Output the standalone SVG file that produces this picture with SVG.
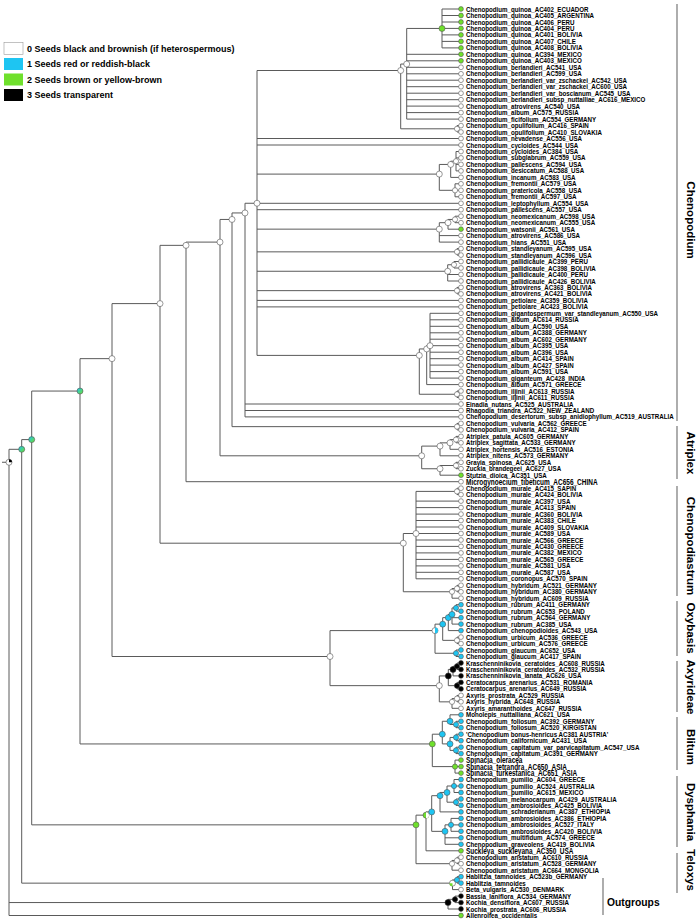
<svg xmlns="http://www.w3.org/2000/svg" width="697" height="922" viewBox="0 0 697 922">
<defs>
<linearGradient id="gmx" x1="0" y1="0" x2="1" y2="1"><stop offset="0" stop-color="#1ec5f2"/><stop offset="1" stop-color="#6fe02c"/></linearGradient>
</defs>
<style>
text{font-family:"Liberation Sans",Arial,sans-serif;font-weight:bold;fill:#000}
.lb{font-size:7px}
.bg{font-size:9px}
.lg{font-size:9px}
.gl{font-size:11.5px}
circle{stroke:#555;stroke-width:.6}
.w{fill:#fff}
.c{fill:#1ec5f2}
.g{fill:#6fe02c}
.k{fill:#000;stroke:#333}
.mx{fill:url(#gmx)}
.pk{fill:#000}
.pc{fill:#1ec5f2}
.pg{fill:#6fe02c}
#edges path{fill:none;stroke:#5a5a5a;stroke-width:1}
.br{stroke:#777;stroke-width:1.2}
</style>
<rect width="697" height="922" fill="#fff"/>
<g id="legend">
<rect x="4" y="42.5" width="19" height="12" fill="#fff" stroke="#999" stroke-width=".6"/>
<rect x="4" y="58" width="19" height="12" fill="#1ec5f2"/>
<rect x="4" y="73.5" width="19" height="12" fill="#6fe02c"/>
<rect x="4" y="89" width="19" height="12" fill="#000"/>
<text class="lg" x="27" y="51.5">0 Seeds black and brownish (if heterospermous)</text>
<text class="lg" x="27" y="67">1 Seeds red or reddish-black</text>
<text class="lg" x="27" y="82.5">2 Seeds brown or yellow-brown</text>
<text class="lg" x="27" y="98">3 Seeds transparent</text>
</g>
<g id="edges">
<path d="M2 462.25H9M9 449.3V915.5M9 449.3H21.7M9 902.55H448M9 915.5H459"/>
<path d="M21.7 439.6V883.15M21.7 439.6H31.7M21.7 883.15H452.5"/>
<path d="M31.7 391.05V824.85M31.7 391.05H80M31.7 824.85H416"/>
<path d="M80 358.65V743.95M80 358.65H112M80 743.95H432.3"/>
<path d="M112 303.6V656.5M112 303.6H160M112 656.5H330"/>
<path d="M160 245.35V543.2M160 245.35H186M160 543.2H403.3"/>
<path d="M186 242.1V481.7M186 242.1H220M186 481.7H459"/>
<path d="M220 219.45V455.8M220 219.45H232M220 455.8H421.7"/>
<path d="M232 212.95V426.65M232 212.95H245M232 426.65H457"/>
<path d="M245 203.25V416.9M245 203.25H257M245 404H459M245 410.5H459M245 416.9H459"/>
<path d="M257 70.5V355.4M257 70.5H400.7M257 138.5H459M257 145H459M257 174.1H439.3M257 203.3H459M257 209.7H459M257 229.15H439.3M257 251.85H457M257 271.25H447.7M257 290.65H457M257 300.4H459M257 306.9H459M257 355.4H419.3"/>
<path d="M400.7 64.05V128.8M400.7 64.05H406.7M400.7 128.8H457"/>
<path d="M406.7 28.45V119.1M406.7 28.45H442M406.7 54.3H459M406.7 60.8H459M406.7 67.3H459M406.7 73.8H459M406.7 80.2H459M406.7 86.7H459M406.7 93.2H459M406.7 99.7H459M406.7 106.1H459M406.7 112.6H459M406.7 119.1H459"/>
<path d="M442 9V47.9M442 9H459M442 15.5H459M442 22H459M442 28.4H459M442 34.9H459M442 41.4H459M442 47.9H459"/>
<path d="M457 125.6V132M457 125.6H459M457 132H459"/>
<path d="M439.3 164.45V190.3M439.3 164.45H450.7M439.3 190.3H455"/>
<path d="M450.7 161.2V177.4M450.7 161.2H456M450.7 177.4H459"/>
<path d="M456 151.5V170.9M456 151.5H459M456 157.9H459M456 164.4H459M456 170.9H459"/>
<path d="M455 183.8V196.8M455 183.8H459M455 190.3H459M455 196.8H459"/>
<path d="M439.3 222.7V242.1M439.3 222.7H448M439.3 235.6H459M439.3 242.1H459"/>
<path d="M448 219.45V229.2M448 219.45H455M448 229.2H459"/>
<path d="M455 216.2V222.7M455 216.2H459M455 222.7H459"/>
<path d="M457 248.6V255.1M457 248.6H459M457 255.1H459"/>
<path d="M447.7 264.75V281M447.7 264.75H454M447.7 274.5H459M447.7 281H459"/>
<path d="M454 261.5V268M454 261.5H459M454 268H459"/>
<path d="M457 287.4V293.9M457 287.4H459M457 293.9H459"/>
<path d="M419.3 348.95V394.25M419.3 348.95H426.7M419.3 394.25H457"/>
<path d="M426.7 345.7V384.6M426.7 345.7H430M426.7 384.6H459"/>
<path d="M430 313.3V378.1M430 313.3H459M430 319.8H459M430 326.3H459M430 332.8H459M430 339.2H459M430 345.7H459M430 352.2H459M430 358.7H459M430 365.1H459M430 371.6H459M430 378.1H459"/>
<path d="M457 391V397.5M457 391H459M457 397.5H459"/>
<path d="M457 423.4V429.9M457 423.4H459M457 429.9H459"/>
<path d="M421.7 446.1V468.75M421.7 446.1H440M421.7 468.75H440"/>
<path d="M440 442.85V455.8M440 442.85H450M440 455.8H459"/>
<path d="M450 439.6V449.3M450 439.6H456M450 449.3H459"/>
<path d="M456 436.4V442.8M456 436.4H459M456 442.8H459"/>
<path d="M440 465.5V475.2M440 465.5H456M440 475.2H459"/>
<path d="M456 462.3V468.7M456 462.3H459M456 468.7H459"/>
<path d="M403.3 533.5V591.75M403.3 533.5H416M403.3 591.75H452"/>
<path d="M416 491.4V578.8M416 491.4H457M416 501.1H459M416 507.6H459M416 514.1H459M416 520.5H459M416 527H459M416 533.5H459M416 540H459M416 546.4H459M416 552.9H459M416 559.4H459M416 565.9H459M416 572.3H459M416 578.8H459"/>
<path d="M457 488.2V494.6M457 488.2H459M457 494.6H459"/>
<path d="M452 588.55V598.2M452 588.55H457M452 598.2H459"/>
<path d="M457 585.3V591.8M457 585.3H459M457 591.8H459"/>
<path d="M330 630.6V685.65M330 630.6H435M330 685.65H439.3"/>
<path d="M435 624.15V653.25M435 624.15H442.7M435 653.25H456"/>
<path d="M442.7 617.65V640.35M442.7 617.65H448.3M442.7 640.35H457"/>
<path d="M448.3 614.4V630.6M448.3 614.4H452M448.3 630.6H459"/>
<path d="M452 607.95V624.1M452 607.95H456M452 617.7H459M452 624.1H459"/>
<path d="M456 604.7V611.2M456 604.7H459M456 611.2H459"/>
<path d="M457 637.1V643.6M457 637.1H459M457 643.6H459"/>
<path d="M456 650V656.5M456 650H459M456 656.5H459"/>
<path d="M439.3 675.95V701.85M439.3 675.95H448.3M439.3 701.85H452"/>
<path d="M448.3 669.45V685.65M448.3 669.45H453M448.3 685.65H457"/>
<path d="M453 666.25V675.9M453 666.25H457M453 675.9H459"/>
<path d="M457 663V669.5M457 663H459M457 669.5H459"/>
<path d="M457 682.4V688.9M457 682.4H459M457 688.9H459"/>
<path d="M452 698.6V708.3M452 698.6H457M452 708.3H459"/>
<path d="M457 695.4V701.8M457 695.4H459M457 701.8H459"/>
<path d="M432.3 734.2V766.6M432.3 734.2H442.3M432.3 766.6H455"/>
<path d="M442.3 721.25V743.9M442.3 721.25H450M442.3 743.9H450"/>
<path d="M450 714.8V724.5M450 714.8H459M450 724.5H456"/>
<path d="M456 721.3V727.7M456 721.3H459M456 727.7H459"/>
<path d="M450 737.45V750.4M450 737.45H456M450 750.4H456"/>
<path d="M456 734.2V740.7M456 734.2H459M456 740.7H459"/>
<path d="M456 747.2V753.6M456 747.2H459M456 753.6H459"/>
<path d="M455 760.1V773.1M455 760.1H459M455 766.6H459M455 773.1H459"/>
<path d="M416 815.15V863.7M416 815.15H426M416 863.7H452"/>
<path d="M426 811.9V850.8M426 811.9H431.7M426 850.8H459"/>
<path d="M431.7 795.7V831.35M431.7 795.7H440M431.7 831.35H445"/>
<path d="M440 792.45V811.9M440 792.45H447M440 811.9H459"/>
<path d="M447 786V802.2M447 786H454M447 802.2H456"/>
<path d="M454 779.5V792.5M454 779.5H459M454 786H459M454 792.5H459"/>
<path d="M456 799V805.4M456 799H459M456 805.4H459"/>
<path d="M445 824.85V844.3M445 824.85H451M445 837.8H459M445 844.3H459"/>
<path d="M451 818.4V831.3M451 818.4H459M451 824.9H459M451 831.3H459"/>
<path d="M452 860.45V870.2M452 860.45H457M452 870.2H459"/>
<path d="M457 857.2V863.7M457 857.2H459M457 863.7H459"/>
<path d="M452.5 879.9V889.6M452.5 879.9H457M452.5 889.6H459"/>
<path d="M457 876.7V883.1M457 876.7H459M457 883.1H459"/>
<path d="M448 899.35V909M448 899.35H455M448 909H459"/>
<path d="M455 896.1V902.6M455 896.1H459M455 902.6H459"/>
</g>
<g id="internal">
<g id="nRoot"><circle class="w" cx="9" cy="462.25" r="3"/><path class="pk" d="M9 462.25V459.25A3 3 0 0 1 12 462.25Z"/></g>
<g id="nB"><circle class="mx" cx="21.7" cy="449.3" r="3"/></g>
<g id="nC"><circle class="mx" cx="31.7" cy="439.6" r="3"/></g>
<g id="nD"><circle class="mx" cx="80" cy="391.05" r="3"/></g>
<g id="nE"><circle class="w" cx="112" cy="358.65" r="3"/></g>
<g id="nX"><circle class="w" cx="160" cy="303.6" r="3"/></g>
<g id="nY"><circle class="w" cx="186" cy="245.35" r="3"/></g>
<g id="nCA"><circle class="w" cx="220" cy="242.1" r="3"/></g>
<g id="nS3"><circle class="w" cx="232" cy="219.45" r="3"/></g>
<g id="nS2"><circle class="w" cx="245" cy="212.95" r="3"/></g>
<g id="nS1"><circle class="w" cx="257" cy="203.25" r="3"/></g>
<g id="nN0"><circle class="w" cx="400.7" cy="70.5" r="3"/></g>
<g id="nN1"><circle class="w" cx="406.7" cy="64.05" r="3"/></g>
<g id="nQ1"><circle class="g" cx="442" cy="28.45" r="3"/></g>
<g id="nO"><circle class="w" cx="457" cy="128.8" r="2.6"/></g>
<g id="nC1"><circle class="w" cx="439.3" cy="174.1" r="3"/></g>
<g id="nC2"><circle class="w" cx="450.7" cy="164.45" r="3"/></g>
<g id="nC3"><circle class="w" cx="456" cy="161.2" r="2.6"/></g>
<g id="nF"><circle class="w" cx="455" cy="190.3" r="2.6"/></g>
<g id="nNM"><circle class="w" cx="439.3" cy="229.15" r="3"/></g>
<g id="nNMb"><circle class="w" cx="448" cy="222.7" r="3"/></g>
<g id="nNMc"><circle class="w" cx="455" cy="219.45" r="2.6"/></g>
<g id="nSD"><circle class="w" cx="457" cy="251.85" r="2.6"/></g>
<g id="nPA"><circle class="w" cx="447.7" cy="271.25" r="3"/></g>
<g id="nPAa"><circle class="w" cx="454" cy="264.75" r="2.6"/></g>
<g id="nAT"><circle class="w" cx="457" cy="290.65" r="2.6"/></g>
<g id="nA3"><circle class="w" cx="419.3" cy="355.4" r="3"/></g>
<g id="nA2"><circle class="w" cx="426.7" cy="348.95" r="3"/></g>
<g id="nA1"><circle class="w" cx="430" cy="345.7" r="3"/></g>
<g id="nI"><circle class="w" cx="457" cy="394.25" r="2.6"/></g>
<g id="nVU"><circle class="w" cx="457" cy="426.65" r="2.6"/></g>
<g id="nATR"><circle class="w" cx="421.7" cy="455.8" r="3"/></g>
<g id="nATa"><circle class="w" cx="440" cy="446.1" r="3"/></g>
<g id="nATb"><circle class="w" cx="450" cy="442.85" r="3"/></g>
<g id="nATc"><circle class="w" cx="456" cy="439.6" r="2.6"/></g>
<g id="nGZS"><circle class="w" cx="440" cy="468.75" r="3"/></g>
<g id="nGZ"><circle class="w" cx="456" cy="465.5" r="2.6"/></g>
<g id="nCD"><circle class="w" cx="403.3" cy="543.2" r="3"/></g>
<g id="nMC"><circle class="w" cx="416" cy="533.5" r="3"/></g>
<g id="nMU"><circle class="w" cx="457" cy="491.4" r="2.6"/></g>
<g id="nHY"><circle class="w" cx="452" cy="591.75" r="2.6"/></g>
<g id="nHYa"><circle class="w" cx="457" cy="588.55" r="2.6"/></g>
<g id="nOA"><circle class="w" cx="330" cy="656.5" r="3"/></g>
<g id="nOX"><circle class="w" cx="435" cy="630.6" r="3"/><path class="pc" d="M435 627.6A3 3 0 0 1 435 633.6Z"/></g>
<g id="nOXa"><circle class="c" cx="442.7" cy="624.15" r="3"/></g>
<g id="nRB"><circle class="c" cx="448.3" cy="617.65" r="3"/></g>
<g id="nRBa"><circle class="c" cx="452" cy="614.4" r="3"/></g>
<g id="nRBb"><circle class="c" cx="456" cy="607.95" r="2.6"/></g>
<g id="nUR"><circle class="w" cx="457" cy="640.35" r="2.6"/></g>
<g id="nGL"><circle class="c" cx="456" cy="653.25" r="2.6"/></g>
<g id="nAX"><circle class="w" cx="439.3" cy="685.65" r="3"/></g>
<g id="nKC"><circle class="k" cx="448.3" cy="675.95" r="3"/></g>
<g id="nKR"><circle class="k" cx="453" cy="669.45" r="3"/></g>
<g id="nKR1"><circle class="k" cx="457" cy="666.25" r="2.6"/></g>
<g id="nCE"><circle class="k" cx="457" cy="685.65" r="2.6"/></g>
<g id="nAXY"><circle class="w" cx="452" cy="701.85" r="2.6"/></g>
<g id="nAX1"><circle class="w" cx="457" cy="698.6" r="2.6"/></g>
<g id="nBS"><circle class="g" cx="432.3" cy="743.95" r="3"/></g>
<g id="nBL"><circle class="c" cx="442.3" cy="734.2" r="3"/></g>
<g id="nBLa"><circle class="c" cx="450" cy="721.25" r="3"/></g>
<g id="nFO"><circle class="c" cx="456" cy="724.5" r="2.6"/></g>
<g id="nBLb"><circle class="c" cx="450" cy="743.9" r="3"/></g>
<g id="nBB1"><circle class="c" cx="456" cy="737.45" r="2.6"/></g>
<g id="nBB2"><circle class="c" cx="456" cy="750.4" r="2.6"/></g>
<g id="nSP"><circle class="g" cx="455" cy="766.6" r="2.6"/></g>
<g id="nDT"><circle class="g" cx="416" cy="824.85" r="3"/></g>
<g id="nDys"><circle class="g" cx="426" cy="815.15" r="3"/><path class="w" d="M426 812.15A3 3 0 0 1 426 818.15Z"/></g>
<g id="nDys1"><circle class="c" cx="431.7" cy="811.9" r="3"/></g>
<g id="nDys2"><circle class="c" cx="440" cy="795.7" r="3"/></g>
<g id="nDys2a"><circle class="c" cx="447" cy="792.45" r="3"/></g>
<g id="nPU"><circle class="c" cx="454" cy="786" r="2.6"/></g>
<g id="nDys2c"><circle class="c" cx="456" cy="802.2" r="2.6"/></g>
<g id="nDys3"><circle class="c" cx="445" cy="831.35" r="3"/></g>
<g id="nDys3a"><circle class="c" cx="451" cy="824.85" r="2.6"/></g>
<g id="nTel"><circle class="w" cx="452" cy="863.7" r="2.6"/></g>
<g id="nTel1"><circle class="w" cx="457" cy="860.45" r="2.6"/></g>
<g id="nHB"><circle class="w" cx="452.5" cy="883.15" r="3"/><path class="pg" d="M452.5 883.15V886.15A3 3 0 0 1 449.5 883.15Z"/></g>
<g id="nHab"><circle class="c" cx="457" cy="879.9" r="2.6"/></g>
<g id="nKO"><circle class="k" cx="448" cy="902.55" r="3"/></g>
<g id="nKO1"><circle class="k" cx="455" cy="899.35" r="2.6"/></g>
</g>
<g id="leaves">
<g id="L1"><circle class="g" cx="461" cy="9" r="2.4"/><text class="lb" transform="matrix(.885 0 0 1 466 11.5)">Chenopodium_quinoa_AC402_ECUADOR</text></g>
<g id="L2"><circle class="g" cx="461" cy="15.5" r="2.4"/><text class="lb" transform="matrix(.885 0 0 1 466 18)">Chenopodium_quinoa_AC405_ARGENTINA</text></g>
<g id="L3"><circle class="g" cx="461" cy="22" r="2.4"/><text class="lb" transform="matrix(.885 0 0 1 466 24.5)">Chenopodium_quinoa_AC406_PERU</text></g>
<g id="L4"><circle class="g" cx="461" cy="28.4" r="2.4"/><text class="lb" transform="matrix(.885 0 0 1 466 30.9)">Chenopodium_quinoa_AC404_PERU</text></g>
<g id="L5"><circle class="g" cx="461" cy="34.9" r="2.4"/><text class="lb" transform="matrix(.885 0 0 1 466 37.4)">Chenopodium_quinoa_AC401_BOLIVIA</text></g>
<g id="L6"><circle class="g" cx="461" cy="41.4" r="2.4"/><text class="lb" transform="matrix(.885 0 0 1 466 43.9)">Chenopodium_quinoa_AC407_CHILE</text></g>
<g id="L7"><circle class="g" cx="461" cy="47.9" r="2.4"/><text class="lb" transform="matrix(.885 0 0 1 466 50.4)">Chenopodium_quinoa_AC408_BOLIVIA</text></g>
<g id="L8"><circle class="g" cx="461" cy="54.3" r="2.4"/><text class="lb" transform="matrix(.885 0 0 1 466 56.8)">Chenopodium_quinoa_AC394_MEXICO</text></g>
<g id="L9"><circle class="g" cx="461" cy="60.8" r="2.4"/><text class="lb" transform="matrix(.885 0 0 1 466 63.3)">Chenopodium_quinoa_AC403_MEXICO</text></g>
<g id="L10"><circle class="w" cx="461" cy="67.3" r="2.4"/><text class="lb" transform="matrix(.885 0 0 1 466 69.8)">Chenopodium_berlandieri_AC541_USA</text></g>
<g id="L11"><circle class="w" cx="461" cy="73.8" r="2.4"/><text class="lb" transform="matrix(.885 0 0 1 466 76.3)">Chenopodium_berlandieri_AC599_USA</text></g>
<g id="L12"><circle class="w" cx="461" cy="80.2" r="2.4"/><text class="lb" transform="matrix(.885 0 0 1 466 82.7)">Chenopodium_berlandieri_var_zschackei_AC542_USA</text></g>
<g id="L13"><circle class="w" cx="461" cy="86.7" r="2.4"/><text class="lb" transform="matrix(.885 0 0 1 466 89.2)">Chenopodium_berlandieri_var_zschackei_AC600_USA</text></g>
<g id="L14"><circle class="w" cx="461" cy="93.2" r="2.4"/><text class="lb" transform="matrix(.885 0 0 1 466 95.7)">Chenopodium_berlandieri_var_boscianum_AC545_USA</text></g>
<g id="L15"><circle class="w" cx="461" cy="99.7" r="2.4"/><text class="lb" transform="matrix(.885 0 0 1 466 102.2)">Chenopodium_berlandieri_subsp_nuttalliae_AC616_MEXICO</text></g>
<g id="L16"><circle class="w" cx="461" cy="106.1" r="2.4"/><text class="lb" transform="matrix(.885 0 0 1 466 108.6)">Chenopodium_atrovirens_AC540_USA</text></g>
<g id="L17"><circle class="w" cx="461" cy="112.6" r="2.4"/><text class="lb" transform="matrix(.885 0 0 1 466 115.1)">Chenopodium_album_AC575_RUSSIA</text></g>
<g id="L18"><circle class="w" cx="461" cy="119.1" r="2.4"/><text class="lb" transform="matrix(.885 0 0 1 466 121.6)">Chenopodium_ficifolium_AC554_GERMANY</text></g>
<g id="L19"><circle class="w" cx="461" cy="125.6" r="2.4"/><text class="lb" transform="matrix(.885 0 0 1 466 128.1)">Chenopodium_opulifolium_AC416_SPAIN</text></g>
<g id="L20"><circle class="w" cx="461" cy="132" r="2.4"/><text class="lb" transform="matrix(.885 0 0 1 466 134.5)">Chenopodium_opulifolium_AC410_SLOVAKIA</text></g>
<g id="L21"><circle class="w" cx="461" cy="138.5" r="2.4"/><text class="lb" transform="matrix(.885 0 0 1 466 141)">Chenopodium_nevadense_AC556_USA</text></g>
<g id="L22"><circle class="w" cx="461" cy="145" r="2.4"/><text class="lb" transform="matrix(.885 0 0 1 466 147.5)">Chenopodium_cycloides_AC544_USA</text></g>
<g id="L23"><circle class="w" cx="461" cy="151.5" r="2.4"/><text class="lb" transform="matrix(.885 0 0 1 466 154)">Chenopodium_cycloides_AC384_USA</text></g>
<g id="L24"><circle class="w" cx="461" cy="157.9" r="2.4"/><text class="lb" transform="matrix(.885 0 0 1 466 160.4)">Chenopodium_subglabrum_AC559_USA</text></g>
<g id="L25"><circle class="w" cx="461" cy="164.4" r="2.4"/><text class="lb" transform="matrix(.885 0 0 1 466 166.9)">Chenopodium_pallescens_AC594_USA</text></g>
<g id="L26"><circle class="w" cx="461" cy="170.9" r="2.4"/><text class="lb" transform="matrix(.885 0 0 1 466 173.4)">Chenopodium_desiccatum_AC588_USA</text></g>
<g id="L27"><circle class="w" cx="461" cy="177.4" r="2.4"/><text class="lb" transform="matrix(.885 0 0 1 466 179.9)">Chenopodium_incanum_AC583_USA</text></g>
<g id="L28"><circle class="w" cx="461" cy="183.8" r="2.4"/><text class="lb" transform="matrix(.885 0 0 1 466 186.3)">Chenopodium_fremontii_AC579_USA</text></g>
<g id="L29"><circle class="w" cx="461" cy="190.3" r="2.4"/><text class="lb" transform="matrix(.885 0 0 1 466 192.8)">Chenopodium_pratericola_AC558_USA</text></g>
<g id="L30"><circle class="w" cx="461" cy="196.8" r="2.4"/><text class="lb" transform="matrix(.885 0 0 1 466 199.3)">Chenopodium_fremontii_AC597_USA</text></g>
<g id="L31"><circle class="w" cx="461" cy="203.3" r="2.4"/><text class="lb" transform="matrix(.885 0 0 1 466 205.8)">Chenopodium_leptophyllum_AC554_USA</text></g>
<g id="L32"><circle class="w" cx="461" cy="209.7" r="2.4"/><text class="lb" transform="matrix(.885 0 0 1 466 212.2)">Chenopodium_pallescens_AC557_USA</text></g>
<g id="L33"><circle class="w" cx="461" cy="216.2" r="2.4"/><text class="lb" transform="matrix(.885 0 0 1 466 218.7)">Chenopodium_neomexicanum_AC598_USA</text></g>
<g id="L34"><circle class="w" cx="461" cy="222.7" r="2.4"/><text class="lb" transform="matrix(.885 0 0 1 466 225.2)">Chenopodium_neomexicanum_AC555_USA</text></g>
<g id="L35"><circle class="g" cx="461" cy="229.2" r="2.4"/><text class="lb" transform="matrix(.885 0 0 1 466 231.7)">Chenopodium_watsonii_AC561_USA</text></g>
<g id="L36"><circle class="w" cx="461" cy="235.6" r="2.4"/><text class="lb" transform="matrix(.885 0 0 1 466 238.1)">Chenopodium_atrovirens_AC586_USA</text></g>
<g id="L37"><circle class="w" cx="461" cy="242.1" r="2.4"/><text class="lb" transform="matrix(.885 0 0 1 466 244.6)">Chenopodium_hians_AC551_USA</text></g>
<g id="L38"><circle class="w" cx="461" cy="248.6" r="2.4"/><text class="lb" transform="matrix(.885 0 0 1 466 251.1)">Chenopodium_standleyanum_AC595_USA</text></g>
<g id="L39"><circle class="w" cx="461" cy="255.1" r="2.4"/><text class="lb" transform="matrix(.885 0 0 1 466 257.6)">Chenopodium_standleyanum_AC596_USA</text></g>
<g id="L40"><circle class="w" cx="461" cy="261.5" r="2.4"/><text class="lb" transform="matrix(.885 0 0 1 466 264)">Chenopodium_pallidicaule_AC399_PERU</text></g>
<g id="L41"><circle class="w" cx="461" cy="268" r="2.4"/><text class="lb" transform="matrix(.885 0 0 1 466 270.5)">Chenopodium_pallidicaule_AC398_BOLIVIA</text></g>
<g id="L42"><circle class="w" cx="461" cy="274.5" r="2.4"/><text class="lb" transform="matrix(.885 0 0 1 466 277)">Chenopodium_pallidicaule_AC400_PERU</text></g>
<g id="L43"><circle class="w" cx="461" cy="281" r="2.4"/><text class="lb" transform="matrix(.885 0 0 1 466 283.5)">Chenopodium_pallidicaule_AC426_BOLIVIA</text></g>
<g id="L44"><circle class="w" cx="461" cy="287.4" r="2.4"/><text class="lb" transform="matrix(.885 0 0 1 466 289.9)">Chenopodium_atrovirens_AC363_BOLIVIA</text></g>
<g id="L45"><circle class="w" cx="461" cy="293.9" r="2.4"/><text class="lb" transform="matrix(.885 0 0 1 466 296.4)">Chenopodium_atrovirens_AC421_BOLIVIA</text></g>
<g id="L46"><circle class="w" cx="461" cy="300.4" r="2.4"/><text class="lb" transform="matrix(.885 0 0 1 466 302.9)">Chenopodium_petiolare_AC359_BOLIVIA</text></g>
<g id="L47"><circle class="w" cx="461" cy="306.9" r="2.4"/><text class="lb" transform="matrix(.885 0 0 1 466 309.4)">Chenopodium_petiolare_AC423_BOLIVIA</text></g>
<g id="L48"><circle class="w" cx="461" cy="313.3" r="2.4"/><text class="lb" transform="matrix(.885 0 0 1 466 315.8)">Chenopodium_gigantospermum_var_standleyanum_AC550_USA</text></g>
<g id="L49"><circle class="w" cx="461" cy="319.8" r="2.4"/><text class="lb" transform="matrix(.885 0 0 1 466 322.3)">Chenopodium_album_AC614_RUSSIA</text></g>
<g id="L50"><circle class="w" cx="461" cy="326.3" r="2.4"/><text class="lb" transform="matrix(.885 0 0 1 466 328.8)">Chenopodium_album_AC590_USA</text></g>
<g id="L51"><circle class="w" cx="461" cy="332.8" r="2.4"/><text class="lb" transform="matrix(.885 0 0 1 466 335.3)">Chenopodium_album_AC388_GERMANY</text></g>
<g id="L52"><circle class="w" cx="461" cy="339.2" r="2.4"/><text class="lb" transform="matrix(.885 0 0 1 466 341.7)">Chenopodium_album_AC602_GERMANY</text></g>
<g id="L53"><circle class="w" cx="461" cy="345.7" r="2.4"/><text class="lb" transform="matrix(.885 0 0 1 466 348.2)">Chenopodium_album_AC395_USA</text></g>
<g id="L54"><circle class="w" cx="461" cy="352.2" r="2.4"/><text class="lb" transform="matrix(.885 0 0 1 466 354.7)">Chenopodium_album_AC396_USA</text></g>
<g id="L55"><circle class="w" cx="461" cy="358.7" r="2.4"/><text class="lb" transform="matrix(.885 0 0 1 466 361.2)">Chenopodium_album_AC414_SPAIN</text></g>
<g id="L56"><circle class="w" cx="461" cy="365.1" r="2.4"/><text class="lb" transform="matrix(.885 0 0 1 466 367.6)">Chenopodium_album_AC427_SPAIN</text></g>
<g id="L57"><circle class="w" cx="461" cy="371.6" r="2.4"/><text class="lb" transform="matrix(.885 0 0 1 466 374.1)">Chenopodium_album_AC591_USA</text></g>
<g id="L58"><circle class="w" cx="461" cy="378.1" r="2.4"/><text class="lb" transform="matrix(.885 0 0 1 466 380.6)">Chenopodium_giganteum_AC428_INDIA</text></g>
<g id="L59"><circle class="w" cx="461" cy="384.6" r="2.4"/><text class="lb" transform="matrix(.885 0 0 1 466 387.1)">Chenopodium_album_AC571_GREECE</text></g>
<g id="L60"><circle class="w" cx="461" cy="391" r="2.4"/><text class="lb" transform="matrix(.885 0 0 1 466 393.5)">Chenopodium_iljinii_AC613_RUSSIA</text></g>
<g id="L61"><circle class="w" cx="461" cy="397.5" r="2.4"/><text class="lb" transform="matrix(.885 0 0 1 466 400)">Chenopodium_iljinii_AC611_RUSSIA</text></g>
<g id="L62"><circle class="w" cx="461" cy="404" r="2.4"/><text class="lb" transform="matrix(.885 0 0 1 466 406.5)">Einadia_nutans_AC525_AUSTRALIA</text></g>
<g id="L63"><circle class="w" cx="461" cy="410.5" r="2.4"/><text class="lb" transform="matrix(.885 0 0 1 466 413)">Rhagodia_triandra_AC522_NEW_ZEALAND</text></g>
<g id="L64"><circle class="w" cx="461" cy="416.9" r="2.4"/><text class="lb" transform="matrix(.885 0 0 1 466 419.4)">Chenopodium_desertorum_subsp_anidiophyllum_AC519_AUSTRALIA</text></g>
<g id="L65"><circle class="w" cx="461" cy="423.4" r="2.4"/><text class="lb" transform="matrix(.885 0 0 1 466 425.9)">Chenopodium_vulvaria_AC562_GREECE</text></g>
<g id="L66"><circle class="w" cx="461" cy="429.9" r="2.4"/><text class="lb" transform="matrix(.885 0 0 1 466 432.4)">Chenopodium_vulvaria_AC412_SPAIN</text></g>
<g id="L67"><circle class="w" cx="461" cy="436.4" r="2.4"/><text class="lb" transform="matrix(.885 0 0 1 466 438.9)">Atriplex_patula_AC605_GERMANY</text></g>
<g id="L68"><circle class="w" cx="461" cy="442.8" r="2.4"/><text class="lb" transform="matrix(.885 0 0 1 466 445.3)">Atriplex_sagittata_AC533_GERMANY</text></g>
<g id="L69"><circle class="w" cx="461" cy="449.3" r="2.4"/><text class="lb" transform="matrix(.885 0 0 1 466 451.8)">Atriplex_hortensis_AC516_ESTONIA</text></g>
<g id="L70"><circle class="w" cx="461" cy="455.8" r="2.4"/><text class="lb" transform="matrix(.885 0 0 1 466 458.3)">Atriplex_nitens_AC573_GERMANY</text></g>
<g id="L71"><circle class="w" cx="461" cy="462.3" r="2.4"/><text class="lb" transform="matrix(.885 0 0 1 466 464.8)">Grayia_spinosa_AC625_USA</text></g>
<g id="L72"><circle class="w" cx="461" cy="468.7" r="2.4"/><text class="lb" transform="matrix(.885 0 0 1 466 471.2)">Zuckia_brandegeei_AC627_USA</text></g>
<g id="L73"><circle class="g" cx="461" cy="475.2" r="2.4"/><text class="lb" transform="matrix(.885 0 0 1 466 477.7)">Stutzia_dioica_AC351_USA</text></g>
<g id="L74"><circle class="w" cx="461" cy="481.7" r="2.4"/><text class="bg" transform="matrix(.72 0 0 1 466 485)">Microgynoecium_tibeticum_AC656_CHINA</text></g>
<g id="L75"><circle class="w" cx="461" cy="488.2" r="2.4"/><text class="lb" transform="matrix(.885 0 0 1 466 490.7)">Chenopodium_murale_AC415_SAPIN</text></g>
<g id="L76"><circle class="w" cx="461" cy="494.6" r="2.4"/><text class="lb" transform="matrix(.885 0 0 1 466 497.1)">Chenopodium_murale_AC424_BOLIVIA</text></g>
<g id="L77"><circle class="w" cx="461" cy="501.1" r="2.4"/><text class="lb" transform="matrix(.885 0 0 1 466 503.6)">Chenopodium_murale_AC397_USA</text></g>
<g id="L78"><circle class="w" cx="461" cy="507.6" r="2.4"/><text class="lb" transform="matrix(.885 0 0 1 466 510.1)">Chenopodium_murale_AC413_SPAIN</text></g>
<g id="L79"><circle class="w" cx="461" cy="514.1" r="2.4"/><text class="lb" transform="matrix(.885 0 0 1 466 516.6)">Chenopodium_murale_AC360_BOLIVIA</text></g>
<g id="L80"><circle class="w" cx="461" cy="520.5" r="2.4"/><text class="lb" transform="matrix(.885 0 0 1 466 523)">Chenopodium_murale_AC383_CHILE</text></g>
<g id="L81"><circle class="w" cx="461" cy="527" r="2.4"/><text class="lb" transform="matrix(.885 0 0 1 466 529.5)">Chenopodium_murale_AC409_SLOVAKIA</text></g>
<g id="L82"><circle class="w" cx="461" cy="533.5" r="2.4"/><text class="lb" transform="matrix(.885 0 0 1 466 536)">Chenopodium_murale_AC589_USA</text></g>
<g id="L83"><circle class="w" cx="461" cy="540" r="2.4"/><text class="lb" transform="matrix(.885 0 0 1 466 542.5)">Chenopodium_murale_AC566_GREECE</text></g>
<g id="L84"><circle class="w" cx="461" cy="546.4" r="2.4"/><text class="lb" transform="matrix(.885 0 0 1 466 548.9)">Chenopodium_murale_AC430_GREECE</text></g>
<g id="L85"><circle class="w" cx="461" cy="552.9" r="2.4"/><text class="lb" transform="matrix(.885 0 0 1 466 555.4)">Chenopodium_murale_AC382_MEXICO</text></g>
<g id="L86"><circle class="w" cx="461" cy="559.4" r="2.4"/><text class="lb" transform="matrix(.885 0 0 1 466 561.9)">Chenopodium_murale_AC565_GREECE</text></g>
<g id="L87"><circle class="w" cx="461" cy="565.9" r="2.4"/><text class="lb" transform="matrix(.885 0 0 1 466 568.4)">Chenopodium_murale_AC581_USA</text></g>
<g id="L88"><circle class="w" cx="461" cy="572.3" r="2.4"/><text class="lb" transform="matrix(.885 0 0 1 466 574.8)">Chenopodium_murale_AC587_USA</text></g>
<g id="L89"><circle class="w" cx="461" cy="578.8" r="2.4"/><text class="lb" transform="matrix(.885 0 0 1 466 581.3)">Chenopodium_coronopus_AC570_SPAIN</text></g>
<g id="L90"><circle class="w" cx="461" cy="585.3" r="2.4"/><text class="lb" transform="matrix(.885 0 0 1 466 587.8)">Chenopodium_hybridum_AC521_GERMANY</text></g>
<g id="L91"><circle class="w" cx="461" cy="591.8" r="2.4"/><text class="lb" transform="matrix(.885 0 0 1 466 594.3)">Chenopodium_hybridum_AC380_GERMANY</text></g>
<g id="L92"><circle class="w" cx="461" cy="598.2" r="2.4"/><text class="lb" transform="matrix(.885 0 0 1 466 600.7)">Chenopodium_hybridum_AC609_RUSSIA</text></g>
<g id="L93"><circle class="c" cx="461" cy="604.7" r="2.4"/><text class="lb" transform="matrix(.885 0 0 1 466 607.2)">Chenopodium_rubrum_AC411_GERMANY</text></g>
<g id="L94"><circle class="c" cx="461" cy="611.2" r="2.4"/><text class="lb" transform="matrix(.885 0 0 1 466 613.7)">Chenopodium_rubrum_AC653_POLAND</text></g>
<g id="L95"><circle class="c" cx="461" cy="617.7" r="2.4"/><text class="lb" transform="matrix(.885 0 0 1 466 620.2)">Chenopodium_rubrum_AC564_GERMANY</text></g>
<g id="L96"><circle class="c" cx="461" cy="624.1" r="2.4"/><text class="lb" transform="matrix(.885 0 0 1 466 626.6)">Chenopodium_rubrum_AC385_USA</text></g>
<g id="L97"><circle class="c" cx="461" cy="630.6" r="2.4"/><text class="lb" transform="matrix(.885 0 0 1 466 633.1)">Chenopodium_chenopodioides_AC543_USA</text></g>
<g id="L98"><circle class="w" cx="461" cy="637.1" r="2.4"/><text class="lb" transform="matrix(.885 0 0 1 466 639.6)">Chenopodium_urbicum_AC536_GREECE</text></g>
<g id="L99"><circle class="w" cx="461" cy="643.6" r="2.4"/><text class="lb" transform="matrix(.885 0 0 1 466 646.1)">Chenopodium_urbicum_AC576_GREECE</text></g>
<g id="L100"><circle class="c" cx="461" cy="650" r="2.4"/><text class="lb" transform="matrix(.885 0 0 1 466 652.5)">Chenopodium_glaucum_AC652_USA</text></g>
<g id="L101"><circle class="c" cx="461" cy="656.5" r="2.4"/><text class="lb" transform="matrix(.885 0 0 1 466 659)">Chenopodium_glaucum_AC417_SPAIN</text></g>
<g id="L102"><circle class="k" cx="461" cy="663" r="2.4"/><text class="lb" transform="matrix(.885 0 0 1 466 665.5)">Kraschenninikovia_ceratoides_AC608_RUSSIA</text></g>
<g id="L103"><circle class="k" cx="461" cy="669.5" r="2.4"/><text class="lb" transform="matrix(.885 0 0 1 466 672)">Kraschenninikovia_ceratoides_AC532_RUSSIA</text></g>
<g id="L104"><circle class="k" cx="461" cy="675.9" r="2.4"/><text class="lb" transform="matrix(.885 0 0 1 466 678.4)">Kraschenninikovia_lanata_AC626_USA</text></g>
<g id="L105"><circle class="k" cx="461" cy="682.4" r="2.4"/><text class="lb" transform="matrix(.885 0 0 1 466 684.9)">Ceratocarpus_arenarius_AC531_ROMANIA</text></g>
<g id="L106"><circle class="k" cx="461" cy="688.9" r="2.4"/><text class="lb" transform="matrix(.885 0 0 1 466 691.4)">Ceratocarpus_arenarius_AC649_RUSSIA</text></g>
<g id="L107"><circle class="w" cx="461" cy="695.4" r="2.4"/><text class="lb" transform="matrix(.885 0 0 1 466 697.9)">Axyris_prostrata_AC529_RUSSIA</text></g>
<g id="L108"><circle class="w" cx="461" cy="701.8" r="2.4"/><text class="lb" transform="matrix(.885 0 0 1 466 704.3)">Axyris_hybrida_AC648_RUSSIA</text></g>
<g id="L109"><circle class="w" cx="461" cy="708.3" r="2.4"/><text class="lb" transform="matrix(.885 0 0 1 466 710.8)">Axyris_amaranthoides_AC647_RUSSIA</text></g>
<g id="L110"><circle class="c" cx="461" cy="714.8" r="2.4"/><text class="lb" transform="matrix(.885 0 0 1 466 717.3)">Monolepis_nuttalliana_AC621_USA</text></g>
<g id="L111"><circle class="c" cx="461" cy="721.3" r="2.4"/><text class="lb" transform="matrix(.885 0 0 1 466 723.8)">Chenopodium_foliosum_AC392_GERMANY</text></g>
<g id="L112"><circle class="c" cx="461" cy="727.7" r="2.4"/><text class="lb" transform="matrix(.885 0 0 1 466 730.2)">Chenopodium_foliosum_AC520_KIRGISTAN</text></g>
<g id="L113"><circle class="c" cx="461" cy="734.2" r="2.4"/><text class="lb" transform="matrix(.885 0 0 1 466 736.7)">'Chenopodium bonus-henricus AC381 AUSTRIA'</text></g>
<g id="L114"><circle class="c" cx="461" cy="740.7" r="2.4"/><text class="lb" transform="matrix(.885 0 0 1 466 743.2)">Chenopodium_californicum_AC431_USA</text></g>
<g id="L115"><circle class="c" cx="461" cy="747.2" r="2.4"/><text class="lb" transform="matrix(.885 0 0 1 466 749.7)">Chenopodium_capitatum_var_parvicapitatum_AC547_USA</text></g>
<g id="L116"><circle class="c" cx="461" cy="753.6" r="2.4"/><text class="lb" transform="matrix(.885 0 0 1 466 756.1)">Chenopodium_capitatum_AC391_GERMANY</text></g>
<g id="L117"><circle class="g" cx="461" cy="760.1" r="2.4"/><text class="bg" transform="matrix(.72 0 0 1 466 763.4)">Spinacia_oleracea</text></g>
<g id="L118"><circle class="g" cx="461" cy="766.6" r="2.4"/><text class="bg" transform="matrix(.72 0 0 1 466 769.9)">Spinacia_tetrandra_AC650_ASIA</text></g>
<g id="L119"><circle class="g" cx="461" cy="773.1" r="2.4"/><text class="bg" transform="matrix(.72 0 0 1 466 776.4)">Spinacia_turkestanica_AC651_ASIA</text></g>
<g id="L120"><circle class="c" cx="461" cy="779.5" r="2.4"/><text class="lb" transform="matrix(.885 0 0 1 466 782)">Chenopodium_pumilio_AC604_GREECE</text></g>
<g id="L121"><circle class="c" cx="461" cy="786" r="2.4"/><text class="lb" transform="matrix(.885 0 0 1 466 788.5)">Chenopodium_pumilio_AC524_AUSTRALIA</text></g>
<g id="L122"><circle class="c" cx="461" cy="792.5" r="2.4"/><text class="lb" transform="matrix(.885 0 0 1 466 795)">Chenopodium_pumilio_AC615_MEXICO</text></g>
<g id="L123"><circle class="c" cx="461" cy="799" r="2.4"/><text class="lb" transform="matrix(.885 0 0 1 466 801.5)">Chenopodium_melanocarpum_AC429_AUSTRALIA</text></g>
<g id="L124"><circle class="c" cx="461" cy="805.4" r="2.4"/><text class="lb" transform="matrix(.885 0 0 1 466 807.9)">Chenopodium_ambrosioides_AC425_BOLIVIA</text></g>
<g id="L125"><circle class="c" cx="461" cy="811.9" r="2.4"/><text class="lb" transform="matrix(.885 0 0 1 466 814.4)">Chenopodium_schraderianum_AC387_ETHIOPIA</text></g>
<g id="L126"><circle class="c" cx="461" cy="818.4" r="2.4"/><text class="lb" transform="matrix(.885 0 0 1 466 820.9)">Chenopodium_ambrosioides_AC386_ETHIOPIA</text></g>
<g id="L127"><circle class="c" cx="461" cy="824.9" r="2.4"/><text class="lb" transform="matrix(.885 0 0 1 466 827.4)">Chenopodium_ambrosioides_AC527_ITALY</text></g>
<g id="L128"><circle class="c" cx="461" cy="831.3" r="2.4"/><text class="lb" transform="matrix(.885 0 0 1 466 833.8)">Chenopodium_ambrosioides_AC420_BOLIVIA</text></g>
<g id="L129"><circle class="c" cx="461" cy="837.8" r="2.4"/><text class="lb" transform="matrix(.885 0 0 1 466 840.3)">Chenopodium_multifidum_AC574_GREECE</text></g>
<g id="L130"><circle class="c" cx="461" cy="844.3" r="2.4"/><text class="lb" transform="matrix(.885 0 0 1 466 846.8)">Chenopodium_graveolens_AC419_BOLIVIA</text></g>
<g id="L131"><circle class="g" cx="461" cy="850.8" r="2.4"/><text class="bg" transform="matrix(.72 0 0 1 466 854.1)">Suckleya_suckleyana_AC350_USA</text></g>
<g id="L132"><circle class="w" cx="461" cy="857.2" r="2.4"/><text class="lb" transform="matrix(.885 0 0 1 466 859.7)">Chenopodium_aristatum_AC610_RUSSIA</text></g>
<g id="L133"><circle class="w" cx="461" cy="863.7" r="2.4"/><text class="lb" transform="matrix(.885 0 0 1 466 866.2)">Chenopodium_aristatum_AC528_GERMANY</text></g>
<g id="L134"><circle class="w" cx="461" cy="870.2" r="2.4"/><text class="lb" transform="matrix(.885 0 0 1 466 872.7)">Chenopodium_aristatum_AC664_MONGOLIA</text></g>
<g id="L135"><circle class="c" cx="461" cy="876.7" r="2.4"/><text class="lb" transform="matrix(.885 0 0 1 466 879.2)">Hablitzia_tamnoides_AC523b_GERMANY</text></g>
<g id="L136"><circle class="c" cx="461" cy="883.1" r="2.4"/><text class="lb" transform="matrix(.885 0 0 1 466 885.6)">Hablitzia_tamnoides</text></g>
<g id="L137"><circle class="w" cx="461" cy="889.6" r="2.4"/><text class="lb" transform="matrix(.885 0 0 1 466 892.1)">Beta_vulgaris_AC530_DENMARK</text></g>
<g id="L138"><circle class="k" cx="461" cy="896.1" r="2.4"/><text class="lb" transform="matrix(.885 0 0 1 466 898.6)">Bassia_laniflora_AC534_GERMANY</text></g>
<g id="L139"><circle class="k" cx="461" cy="902.6" r="2.4"/><text class="lb" transform="matrix(.885 0 0 1 466 905.1)">Kochia_densiflora_AC607_RUSSIA</text></g>
<g id="L140"><circle class="k" cx="461" cy="909" r="2.4"/><text class="lb" transform="matrix(.885 0 0 1 466 911.5)">Kochia_prostrata_AC606_RUSSIA</text></g>
<g id="L141"><circle class="g" cx="461" cy="915.5" r="2.4"/><text class="lb" transform="matrix(.885 0 0 1 466 918)">Allenrolfea_occidentalis</text></g>
</g>
<g id="groups">
<line class="br" x1="677" y1="4" x2="677" y2="421"/>
<text class="gl" transform="translate(687 220) rotate(90)" text-anchor="middle">Chenopodium</text>
<line class="br" x1="677" y1="426" x2="677" y2="479"/>
<text class="gl" transform="translate(687 453) rotate(90)" text-anchor="middle">Atriplex</text>
<line class="br" x1="677" y1="486" x2="677" y2="596"/>
<text class="gl" transform="translate(687 546) rotate(90)" text-anchor="middle">Chenopodiastrum</text>
<line class="br" x1="677" y1="601" x2="677" y2="656"/>
<text class="gl" transform="translate(687 628) rotate(90)" text-anchor="middle">Oxybasis</text>
<line class="br" x1="677" y1="661" x2="677" y2="712"/>
<text class="gl" transform="translate(687 687) rotate(90)" text-anchor="middle">Axyrideae</text>
<line class="br" x1="677" y1="717" x2="677" y2="770"/>
<text class="gl" transform="translate(687 747) rotate(90)" text-anchor="middle">Blitum</text>
<line class="br" x1="677" y1="776" x2="677" y2="847"/>
<text class="gl" transform="translate(687 812) rotate(90)" text-anchor="middle">Dysphania</text>
<line class="br" x1="677" y1="853" x2="677" y2="893"/>
<text class="gl" transform="translate(687 870) rotate(90)" text-anchor="middle">Teloxys</text>
<line class="br" x1="603" y1="878" x2="603" y2="915"/>
<text class="gl" x="607" y="906" style="font-size:10.3px">Outgroups</text>
</g>
</svg>
